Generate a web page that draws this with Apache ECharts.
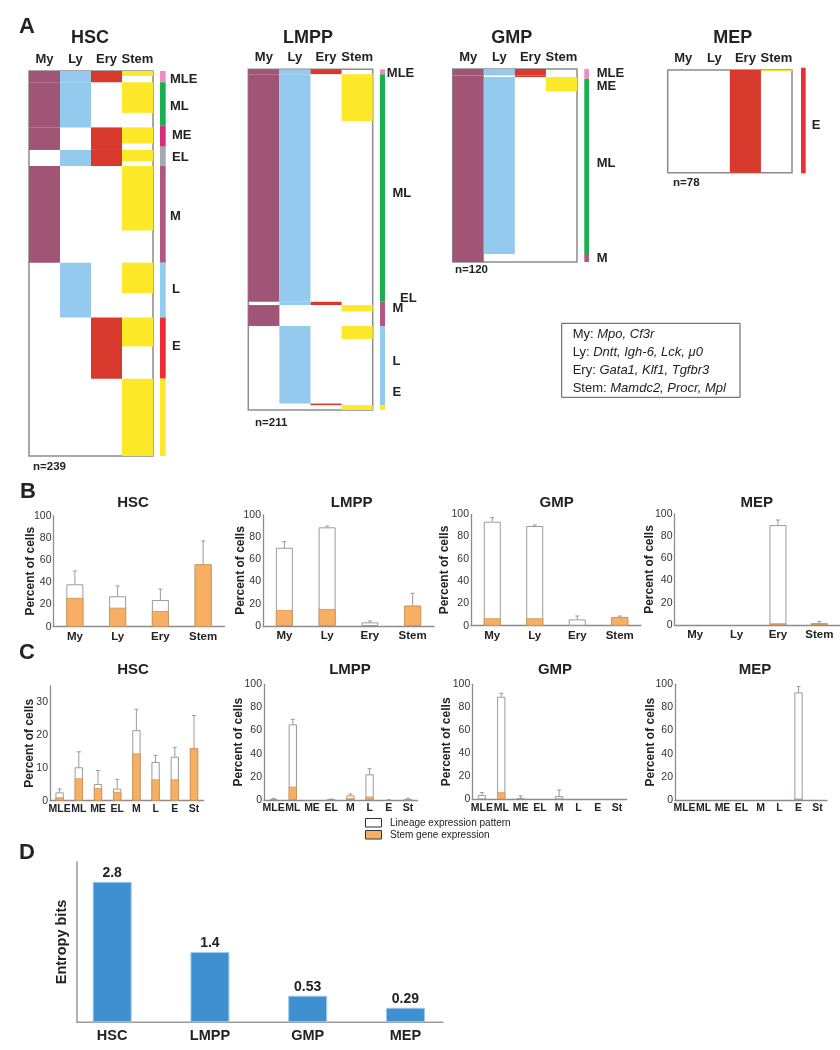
<!DOCTYPE html>
<html>
<head>
<meta charset="utf-8">
<title>Lineage priming in HSC, LMPP, GMP, MEP</title>
<script src="https://cdn.jsdelivr.net/npm/echarts@6.0.0/dist/echarts.min.js"></script>
<style>html,body{margin:0;padding:0;background:#fff;}#main{width:840px;height:1050px;}</style>
</head>
<body>
<div id="main"></div>
<script>
var FONT = '"Liberation Sans", Arial, Helvetica, sans-serif';
var INK = '#222';

// ================= Panel A data (single-cell rows) =================
var lineageColumns = ['My', 'Ly', 'Ery', 'Stem'];

var hscN = 239;
var hscGroups = [['MLE',0,7],['ML',7,35],['ME',35,49],['EL',49,59],['M',59,119],['L',119,153],['E',153,191],['',191,239]];
var hscStem = [[0,3],[7,26],[35,45],[49,56],[59,99],[119,138],[153,171],[191,239]];
var hscSide = [['MLE',0,7],['ML',7,34],['ME',34,47],['EL',47,59],['M',59,119],['L',119,153],['E',153,191],['St',191,239]];
var hscSideLabels = [['MLE',5.5],['ML',21.7],['ME',40.3],['EL',53.4],['M',90],['L',135.3],['E',170.7]];

var lmppN = 211;
var lmppGroups = [['MLE',0,3],['ML',3,144],['EL',144,146],['M',146,159],['L',159,207],['E',207,208],['',208,211]];
var lmppStem = [[3,32],[146,150],[159,167],[208,211]];
var lmppSide = [['MLE',0,3],['ML',3,144],['M',144,159],['L',159,208],['St',208,211]];
var lmppSideLabels = [['MLE',2.3],['ML',76.6],['EL',141.6],['M',148.4],['L',181],['E',200]];

var gmpN = 120;
var gmpGroups = [['MLE',0,4],['ME',4,5],['ML',5,115],['M',115,120]];
var gmpStem = [[5,14]];
var gmpSide = [['MLE',0,6],['ML',6,115],['M',115,120]];
var gmpSideLabels = [['MLE',2.7],['ME',11],['ML',58.5],['M',118]];

var mepN = 78;
var mepGroups = [['E',0,78]];
var mepStem = [[0,1]];
var mepSide = [['E',0,78]];
var mepSideLabels = [['E',42.3]];

var geneLegend = [['My','Mpo, Cf3r'],['Ly','Dntt, Igh-6, Lck, \u03bc0'],['Ery','Gata1, Klf1, Tgfbr3'],['Stem','Mamdc2, Procr, Mpl']];

// ================= Panel B data (percent of cells) =================
var bCats = ['My','Ly','Ery','Stem'];
var bHscTotal = [38.2, 27.4, 24.0, 56.2];
var bHscStem  = [25.9, 17.1, 14.1, 56.2];
var bHscErr   = [50.2, 36.7, 33.9, 77.2];
var bLmppTotal = [70.5, 88.9, 3.3, 18.3];
var bLmppStem  = [14.4, 15.3, 0, 18.3];
var bLmppErr   = [76.0, 90.0, 4.5, 29.5];
var bGmpTotal = [93.4, 89.5, 5.7, 7.8];
var bGmpStem  = [6.6, 6.6, 0, 7.8];
var bGmpErr   = [97.0, 90.4, 8.7, 8.7];
var bMepTotal = [0, 0, 90.0, 1.5];
var bMepStem  = [0, 0, 1.5, 1.5];
var bMepErr   = [0, 0, 94.6, 3.0];

// ================= Panel C data (percent of cells) =================
var cCats = ['MLE','ML','ME','EL','M','L','E','St'];
var cHscTotal = [2.55, 10.2, 5.1, 3.7, 21.5, 11.8, 13.4, 16.0];
var cHscStem  = [1.0, 6.8, 3.8, 2.65, 14.4, 6.5, 6.5, 16.0];
var cHscErr   = [3.6, 14.9, 9.2, 6.5, 27.9, 13.8, 16.2, 26.0];
var cLmppTotal = [0.8, 65.4, 0, 0.4, 4.0, 22.2, 0, 0.4];
var cLmppStem  = [0, 11.5, 0, 0, 1.5, 2.9, 0, 0.4];
var cLmppErr   = [1.5, 69.7, 0, 0.8, 5.2, 27.0, 0.3, 1.5];
var cGmpTotal = [3.7, 89.2, 1.0, 0, 2.9, 0, 0, 0];
var cGmpStem  = [0, 6.1, 0, 0, 0, 0, 0, 0];
var cGmpErr   = [5.8, 92.2, 3.0, 0, 8.1, 0, 0, 0];
var cMepTotal = [0, 0, 0, 0, 0, 0, 93.0, 0];
var cMepStem  = [0, 0, 0, 0, 0, 0, 1.2, 0];
var cMepErr   = [0, 0, 0, 0, 0, 0, 98.0, 0];

// ================= Panel D data =================
var dCats = ['HSC','LMPP','GMP','MEP'];
var dEntropy = [2.8, 1.4, 0.53, 0.29];

// ================= styles / layout =================
var lineageColor = {My:'#a05577', Ly:'#93caee', Ery:'#d8392d', Stem:'#fde929'};
var sideColor = {MLE:'#f18ac0', ML:'#19b14d', ME:'#d82c7c', EL:'#a4aaaf', M:'#b05786', L:'#93caee', E:'#ee2e37', St:'#fde929'};
var colIndex = {M:0, L:1, E:2};

var heatPanels = [
  {n:hscN, groups:hscGroups, stem:hscStem, side:hscSide, labels:hscSideLabels},
  {n:lmppN, groups:lmppGroups, stem:lmppStem, side:lmppSide, labels:lmppSideLabels},
  {n:gmpN, groups:gmpGroups, stem:gmpStem, side:gmpSide, labels:gmpSideLabels},
  {n:mepN, groups:mepGroups, stem:mepStem, side:mepSide, labels:mepSideLabels}
];
var heatLayout = [
  {left:29, top:71, width:124, height:385, side:{left:160, top:71, width:5.7, height:385}, dx:{_:5, MLE:4.3, ML:4.3, M:4.3, ME:6.3, EL:6.3, L:6.3, E:6.3}},
  {left:248.3, top:69.3, width:124.4, height:340.7, side:{left:380, top:69.3, width:5, height:340.7}, dx:{_:7.5, MLE:1.8, EL:15}},
  {left:452.7, top:69, width:124.3, height:193, side:{left:584.3, top:69, width:4.7, height:193}, dx:{_:7.7}},
  {left:667.7, top:70, width:124.3, height:102.7, side:{left:801, top:67.7, width:4.7, height:105.6}, dx:{_:6}}
];

var bPanels = [
  {total:bHscTotal, stem:bHscStem, err:bHscErr},
  {total:bLmppTotal, stem:bLmppStem, err:bLmppErr},
  {total:bGmpTotal, stem:bGmpStem, err:bGmpErr},
  {total:bMepTotal, stem:bMepStem, err:bMepErr}
];
var bLayout = [
  {left:53.5, top:515.7, width:171, height:111, max:100, interval:20, nameGap:17},
  {left:263, top:515, width:171, height:111, max:100, interval:20, nameGap:16},
  {left:471, top:514.3, width:170, height:111.4, max:100, interval:20, nameGap:20},
  {left:674.5, top:514, width:170, height:111, max:100, interval:20, nameGap:19}
];
var cPanels = [
  {total:cHscTotal, stem:cHscStem, err:cHscErr},
  {total:cLmppTotal, stem:cLmppStem, err:cLmppErr},
  {total:cGmpTotal, stem:cGmpStem, err:cGmpErr},
  {total:cMepTotal, stem:cMepStem, err:cMepErr}
];
var cLayout = [
  {left:50, top:685.9, width:153.6, height:114.8, max:35, interval:10, nameGap:14, hideMax:true},
  {left:264, top:684.3, width:153.6, height:115.7, max:100, interval:20, nameGap:19},
  {left:472.3, top:684.3, width:154.4, height:115, max:100, interval:20, nameGap:20},
  {left:675, top:684.3, width:152, height:115.7, max:100, interval:20, nameGap:18}
];

var grids = [], xAxes = [], yAxes = [], series = [], graphics = [];

function txt(x, y, text, size, weight, align) {
  return {type:'text', silent:true, style:{x:x, y:y, text:text, fontSize:size, fontWeight:weight || 'normal',
    fontFamily:FONT, fill:INK, align:align || 'left', textAlign:align || 'left',
    verticalAlign:'middle', textVerticalAlign:'middle'}};
}

// ----- Panel A -----
heatPanels.forEach(function (p, i) {
  var L = heatLayout[i];
  var gi = grids.length;
  grids.push({left:L.left, top:L.top, width:L.width, height:L.height, show:true,
    borderColor:'#8c8c8c', borderWidth:1.5, backgroundColor:'transparent'});
  xAxes.push({gridIndex:gi, type:'category', data:lineageColumns, position:'top',
    axisLine:{show:false}, axisTick:{show:false}, splitLine:{show:false},
    axisLabel:{interval:0, fontSize:13, fontWeight:'bold', fontFamily:FONT, color:INK, margin:5}});
  yAxes.push({gridIndex:gi, type:'value', min:0, max:p.n, inverse:true, show:false});
  var segs = [];
  p.groups.forEach(function (g) {
    g[0].split('').forEach(function (ch) { segs.push([colIndex[ch], g[1], g[2]]); });
  });
  p.stem.forEach(function (s) { segs.push([3, s[0], s[1]]); });
  series.push({type:'custom', xAxisIndex:gi, yAxisIndex:gi, data:segs, encode:{x:0, y:[1, 2]},
    clip:false, silent:true, z:2,
    renderItem:function (params, api) {
      var d = segs[params.dataIndex];
      var p0 = api.coord([d[0], d[1]]), p1 = api.coord([d[0], d[2]]);
      var w = api.size([1, 0])[0];
      return {type:'rect', shape:{x:p0[0] - w / 2, y:p0[1], width:w, height:p1[1] - p0[1]},
        style:{fill:lineageColor[lineageColumns[d[0]]]}};
    }});

  var si = grids.length;
  grids.push({left:L.side.left, top:L.side.top, width:L.side.width, height:L.side.height, show:false});
  xAxes.push({gridIndex:si, type:'category', data:['class'], show:false});
  yAxes.push({gridIndex:si, type:'value', min:0, max:p.n, inverse:true, show:false});
  series.push({type:'custom', xAxisIndex:si, yAxisIndex:si,
    data:p.side.map(function (s) { return [0, s[1], s[2]]; }), encode:{x:0, y:[1, 2]},
    clip:false, silent:true,
    renderItem:function (params, api) {
      var s = p.side[params.dataIndex];
      var p0 = api.coord([0, s[1]]), p1 = api.coord([0, s[2]]);
      var w = api.size([1, 0])[0];
      return {type:'rect', shape:{x:p0[0] - w / 2, y:p0[1], width:w, height:p1[1] - p0[1]},
        style:{fill:sideColor[s[0]]}};
    }});
  series.push({type:'custom', xAxisIndex:si, yAxisIndex:si,
    data:p.labels.map(function (l) { return [0, l[1]]; }), encode:{x:0, y:1},
    clip:false, silent:true,
    renderItem:function (params, api) {
      var l = p.labels[params.dataIndex];
      var c = api.coord([0, l[1]]);
      var w = api.size([1, 0])[0];
      var dx = (L.dx[l[0]] != null) ? L.dx[l[0]] : L.dx._;
      return {type:'text', x:c[0] + w / 2 + dx, y:c[1],
        style:{text:l[0], fontSize:13, fontWeight:'bold', fontFamily:FONT, fill:INK,
          align:'left', textAlign:'left', verticalAlign:'middle', textVerticalAlign:'middle'}};
    }});
});

// ----- Panels B and C -----
function errRender(params, api) {
  var i = api.value(0), lo = api.value(1), hi = api.value(2);
  if (!(hi > lo)) return null;
  var p0 = api.coord([i, lo]), p1 = api.coord([i, hi]);
  return {type:'group', children:[
    {type:'line', shape:{x1:p0[0], y1:p0[1], x2:p1[0], y2:p1[1]}, style:{stroke:'#9a9a9a', lineWidth:1}},
    {type:'line', shape:{x1:p1[0] - 2, y1:p1[1], x2:p1[0] + 2, y2:p1[1]}, style:{stroke:'#9a9a9a', lineWidth:1}}
  ]};
}
function nz(v) { return v > 0 ? v : '-'; }

function barPanel(L, cats, d, opt) {
  var gi = grids.length;
  grids.push({left:L.left, top:L.top, width:L.width, height:L.height});
  xAxes.push({gridIndex:gi, type:'category', data:cats,
    axisLine:{show:true, lineStyle:{color:'#8c8c8c', width:1.3}}, axisTick:{show:false},
    axisLabel:{interval:0, fontSize:opt.catSize, fontWeight:'bold', fontFamily:FONT, color:INK, margin:opt.catMargin}});
  var yl = {fontSize:10.5, fontFamily:FONT, color:'#333', margin:2};
  if (L.hideMax) yl.showMaxLabel = false;
  yAxes.push({gridIndex:gi, type:'value', min:0, max:L.max, interval:L.interval,
    axisLine:{show:true, lineStyle:{color:'#8c8c8c', width:1.3}}, axisTick:{show:false},
    splitLine:{show:false}, axisLabel:yl,
    name:'Percent of cells', nameLocation:'middle', nameGap:L.nameGap, nameMoveOverlap:false,
    nameTextStyle:{fontSize:12, fontWeight:'bold', fontFamily:FONT, color:INK}});
  series.push({type:'bar', xAxisIndex:gi, yAxisIndex:gi, data:d.total.map(nz), barWidth:opt.barWidth,
    barGap:'-100%', silent:true, z:2, itemStyle:{color:'#ffffff', borderColor:'#9a9a9a', borderWidth:1}});
  series.push({type:'bar', xAxisIndex:gi, yAxisIndex:gi, data:d.stem.map(nz), barWidth:opt.barWidth,
    barGap:'-100%', silent:true, z:3, itemStyle:{color:'#f7b063', borderColor:'#cf9254', borderWidth:0.8}});
  series.push({type:'custom', xAxisIndex:gi, yAxisIndex:gi, silent:true, z:1,
    data:cats.map(function (c, k) { return [k, d.total[k], d.err[k]]; }), encode:{x:0, y:[1, 2]},
    renderItem:errRender});
}
bPanels.forEach(function (d, i) { barPanel(bLayout[i], bCats, d, {barWidth:17, catSize:11.5, catMargin:4}); });
cPanels.forEach(function (d, i) { barPanel(cLayout[i], cCats, d, {barWidth:8.3, catSize:10.5, catMargin:3}); });

// ----- Panel D -----
var di = grids.length;
grids.push({left:63.3, top:861.7, width:391, height:160.6});
xAxes.push({gridIndex:di, type:'category', data:dCats, axisLine:{show:false}, axisTick:{show:false},
  axisLabel:{interval:0, fontSize:14.5, fontWeight:'bold', fontFamily:FONT, color:INK, margin:6}});
yAxes.push({gridIndex:di, type:'value', min:0, max:3.2, offset:-13.4,
  axisLine:{show:true, lineStyle:{color:'#9a9a9a', width:1.5}}, axisTick:{show:false},
  axisLabel:{show:false}, splitLine:{show:false},
  name:'Entropy bits', nameLocation:'middle', nameGap:7, nameMoveOverlap:false,
  nameTextStyle:{fontSize:14.5, fontWeight:'bold', fontFamily:FONT, color:INK}});
series.push({type:'bar', xAxisIndex:di, yAxisIndex:di, data:dEntropy, barWidth:39, silent:true,
  itemStyle:{color:'#3e90d0', borderColor:'#9fcbee', borderWidth:1},
  label:{show:true, position:'top', distance:2, fontSize:14, fontWeight:'bold', fontFamily:FONT, color:INK}});
graphics.push({type:'line', silent:true, shape:{x1:76.7, y1:1022.3, x2:443.3, y2:1022.3},
  style:{stroke:'#9a9a9a', lineWidth:1.5}});

// ----- Texts -----
graphics.push(txt(19, 27, 'A', 22, 'bold'));
graphics.push(txt(20, 491.7, 'B', 22, 'bold'));
graphics.push(txt(19, 653.3, 'C', 22, 'bold'));
graphics.push(txt(19, 853.3, 'D', 22, 'bold'));

var panelNames = ['HSC', 'LMPP', 'GMP', 'MEP'];
var aTitleX = [90, 308, 511.7, 732.7];
var bTitleX = [133, 351.7, 556.7, 756.7];
var cTitleX = [133, 350, 555, 755];
panelNames.forEach(function (nm, i) {
  graphics.push(txt(aTitleX[i], 38, nm, 18, 'bold', 'center'));
  graphics.push(txt(bTitleX[i], 503.3, nm, 15, 'bold', 'center'));
  graphics.push(txt(cTitleX[i], 669.5, nm, 15, 'bold', 'center'));
});
graphics.push(txt(33, 466.7, 'n=' + hscN, 11.5, 'bold'));
graphics.push(txt(255, 423, 'n=' + lmppN, 11.5, 'bold'));
graphics.push(txt(455, 270, 'n=' + gmpN, 11.5, 'bold'));
graphics.push(txt(673, 183, 'n=' + mepN, 11.5, 'bold'));

// gene legend box
graphics.push({type:'rect', silent:true, shape:{x:561.7, y:323.3, width:178.3, height:74},
  style:{fill:'#ffffff', stroke:'#555555', lineWidth:1}});
geneLegend.forEach(function (g, k) {
  graphics.push({type:'text', silent:true, style:{x:572.7, y:334.5 + k * 18, text:g[0] + ': {i|' + g[1] + '}',
    fontSize:13, fontFamily:FONT, fill:INK, align:'left', textAlign:'left', verticalAlign:'middle', textVerticalAlign:'middle',
    rich:{i:{fontStyle:'italic', fontSize:13, fontFamily:FONT, fill:INK}}}});
});

// B/C legend
graphics.push({type:'rect', silent:true, shape:{x:365.5, y:818.5, width:16, height:8.5},
  style:{fill:'#ffffff', stroke:'#333333', lineWidth:1}});
graphics.push({type:'rect', silent:true, shape:{x:365.5, y:830.5, width:16, height:8.5},
  style:{fill:'#f7b063', stroke:'#333333', lineWidth:1}});
graphics.push(txt(390, 823, 'Lineage expression pattern', 10));
graphics.push(txt(390, 835, 'Stem gene expression', 10));

var chart = echarts.init(document.getElementById('main'), null, {renderer:'canvas', width:840, height:1050});
chart.setOption({
  backgroundColor:'#ffffff',
  animation:false,
  textStyle:{fontFamily:FONT},
  grid:grids, xAxis:xAxes, yAxis:yAxes, series:series,
  graphic:{elements:graphics}
});
</script>
</body>
</html>
